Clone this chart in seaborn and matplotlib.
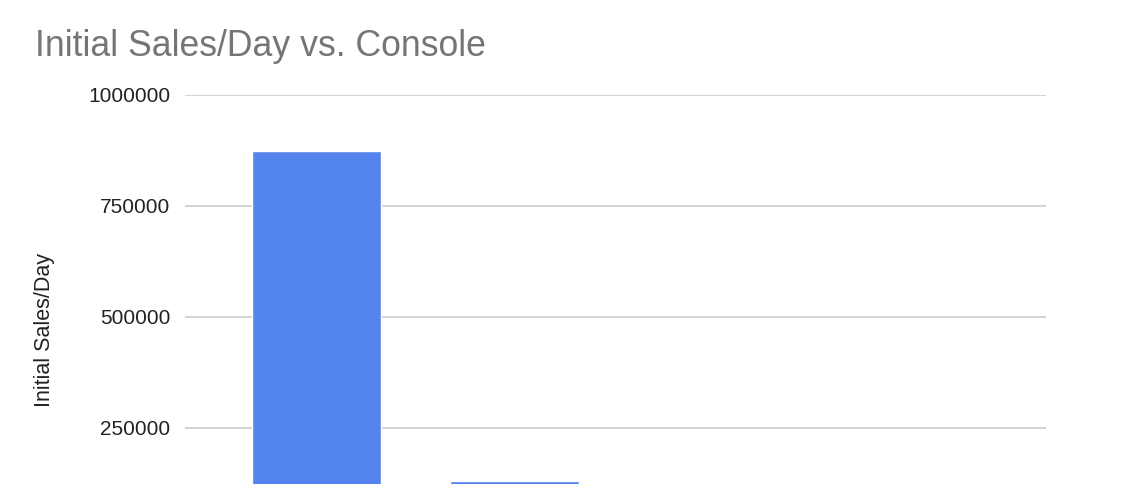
import pandas as pd
import seaborn as sns
import matplotlib.pyplot as plt

sns.set_style("white")
plt.rcParams['font.family'] = ['Liberation Sans', 'DejaVu Sans']

# values; the last two bars sit below the cropped edge
consoles = ["Console A", "Console B", "Console C", "Console D"]
sales_per_day = [874000, 131000, 90000, 45000]
y_ticks = [250000, 500000, 750000, 1000000]

df = pd.DataFrame({"Console": consoles, "Initial Sales/Day": sales_per_day})

fig = plt.figure(figsize=(11.44, 4.84), dpi=100)
# the chart is cut off at the bottom, so the axes run below the figure
ax = fig.add_axes([0.1617, -0.1136, 0.7526, 0.9174])

sns.barplot(data=df, x="Console", y="Initial Sales/Day", color="#5484ed",
            saturation=1, width=0.65, ax=ax)

ax.set_ylim(0, 1000000)
ax.set_xlim(-0.664, 3.684)
ax.set_yticks(y_ticks)
ax.set_yticklabels([str(t) for t in y_ticks])
ax.yaxis.grid(True, color="#cccccc", linewidth=1.2)
ax.set_axisbelow(True)
ax.tick_params(axis="y", length=0, pad=10.5, labelsize=15, labelcolor="#222222")
# the category labels fall outside the cropped picture
ax.tick_params(axis="x", length=0, labelbottom=False)
for s in ax.spines.values():
    s.set_visible(False)

ax.set_xlabel("")
ax.set_ylabel("Initial Sales/Day", fontsize=15.5, color="#222222")
ax.yaxis.set_label_coords(-0.151, 0.471)

fig.text(35 / 1144, 1 - 56 / 484, "Initial Sales/Day vs. Console",
         fontsize=25.7, color="#757575", ha="left", va="baseline")

fig.savefig("out.png", dpi=100)
